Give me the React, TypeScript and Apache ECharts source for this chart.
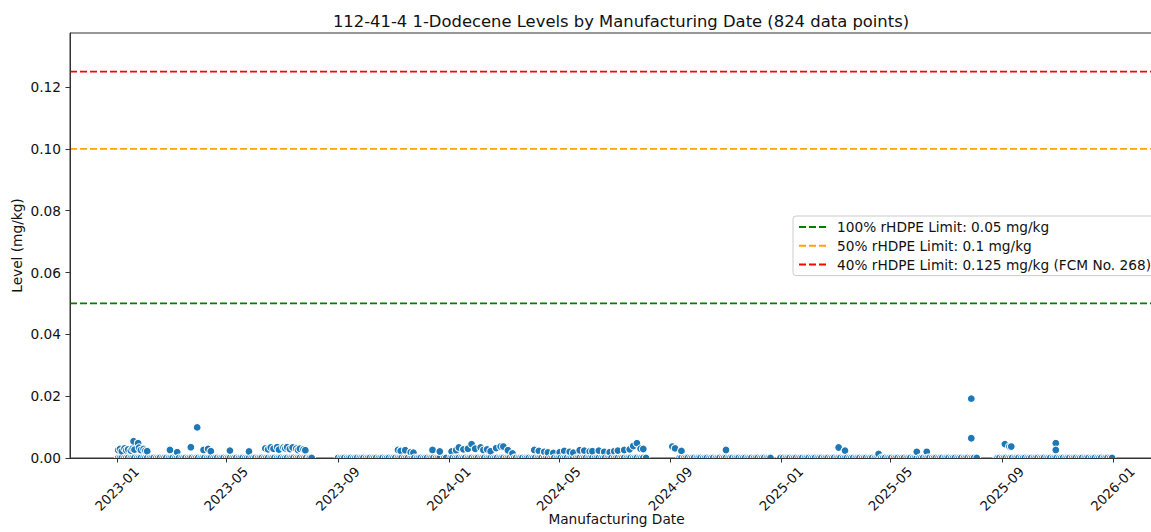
import { useEffect, useRef } from "react";
import * as echarts from "echarts";

const chartTitle = "112-41-4 1-Dodecene Levels by Manufacturing Date (824 data points)";
const xAxisTitle = "Manufacturing Date";
const yAxisTitle = "Level (mg/kg)";

const xTickDates = [
  "2023-01-01", "2023-05-01", "2023-09-01", "2024-01-01", "2024-05-01",
  "2024-09-01", "2025-01-01", "2025-05-01", "2025-09-01", "2026-01-01",
];
const yTicks = [0, 0.02, 0.04, 0.06, 0.08, 0.1, 0.12];
const xRange = ["2022-11-10", "2026-02-25"];
const yRange = [0, 0.1375];

const limitNames = [
  "100% rHDPE Limit: 0.05 mg/kg",
  "50% rHDPE Limit: 0.1 mg/kg",
  "40% rHDPE Limit: 0.125 mg/kg (FCM No. 268)",
];
const limitValues = [0.05, 0.1, 0.125];
const limitColors = ["#008000", "#ffa500", "#ff0000"];

// Samples with no detection (level 0), by month: days of month
const zeroDays: [string, string][] = [
  ["2023-01", "2 4 6 9 11 13 16 18 20 23 25 27 30"],
  ["2023-02", "1 3 6 8 10 13 15 17 20 22 24 27"],
  ["2023-03", "1 3 6 8 10 13 15 17 20 22 24 27 29 31"],
  ["2023-04", "3 5 7 10 12 14 17 19 21 24 26 28"],
  ["2023-05", "1 3 5 8 10 12 15 17 19 22 24 26 29 31"],
  ["2023-06", "2 5 7 9 12 14 16 19 21 23 26 28 30"],
  ["2023-07", "3 5 7 10 12 14 17 19 21 24 26 28 31"],
  ["2023-08", "1 3"],
  ["2023-09", "1 4 6 8 11 13 15 18 20 22 25 27 29"],
  ["2023-10", "2 4 6 9 11 13 16 18 20 23 25 27 30"],
  ["2023-11", "1 3 6 8 10 13 15 17 20 22 24 27 29"],
  ["2023-12", "1 4 6 8 11 13 15 18 20 22 27 29"],
  ["2024-01", "3 5 8 10 12 15 17 19 22 24 26 29 31"],
  ["2024-02", "2 5 7 9 12 14 16 19 21 23 26 28"],
  ["2024-03", "1 4 6 8 11 13 15 18 20 22 25 27 29"],
  ["2024-04", "1 3 5 8 10 12 15 17 19 22 24 26 29"],
  ["2024-05", "1 3 6 8 10 13 15 17 20 22 24 27 29 31"],
  ["2024-06", "3 5 7 10 12 14 17 19 21 24 26 28"],
  ["2024-07", "1 3 5 8 10 12 15 17 19 22 24 26 29 31"],
  ["2024-08", "2 5"],
  ["2024-09", "11 13 16 18 20 23 25 27 30"],
  ["2024-10", "2 4 7 9 11 14 16 18 21 23 25 28 30"],
  ["2024-11", "1 4 6 8 11 13 15 18 20 22 25 27 29"],
  ["2024-12", "2 4 6 9 11 13 16 18 20 31"],
  ["2025-01", "3 6 8 10 13 15 17 20 22 24 27 29 31"],
  ["2025-02", "3 5 7 10 12 14 17 19 21 24 26 28"],
  ["2025-03", "3 5 7 10 12 14 17 19 21 24 26 28 31"],
  ["2025-04", "2 4 7 9 11 14 16 18 21 23 25 28 30"],
  ["2025-05", "2 5 7 9 12 14 16 19 21 23 26 28 30"],
  ["2025-06", "2 4 6 9 11 13 16 18 20 23 25 27 30"],
  ["2025-07", "2 4 7 9 11 14 16 18 21 23 25 28 30"],
  ["2025-08", "1 4 26 27 29"],
  ["2025-09", "1 3 5 8 10 12 15 17 19 22 24 26 29"],
  ["2025-10", "1 3 6 8 10 13 15 17 20 22 24 27 29 31"],
  ["2025-11", "3 5 7 10 12 14 17 19 21 24 26 28"],
  ["2025-12", "1 3 5 8 10 12 15 17 19 22 24 26 29 31"],
];

// Samples with a detected level
const detectedDates = [
  "2023-01-02", "2023-01-04", "2023-01-06", "2023-01-09", "2023-01-11", "2023-01-13",
  "2023-01-16", "2023-01-18", "2023-01-19", "2023-01-20", "2023-01-24", "2023-01-25",
  "2023-01-27", "2023-01-30", "2023-02-01", "2023-02-03", "2023-02-28", "2023-03-08",
  "2023-03-23", "2023-03-30", "2023-04-06", "2023-04-11", "2023-04-14", "2023-05-05",
  "2023-05-26", "2023-06-13", "2023-06-16", "2023-06-19", "2023-06-22", "2023-06-26",
  "2023-06-28", "2023-07-03", "2023-07-05", "2023-07-07", "2023-07-10", "2023-07-13",
  "2023-07-17", "2023-07-19", "2023-07-21", "2023-07-25", "2023-07-27",
  "2023-11-06", "2023-11-09", "2023-11-14", "2023-11-20", "2023-11-23", "2023-12-14",
  "2023-12-22", "2024-01-04", "2024-01-09", "2024-01-12", "2024-01-17", "2024-01-22",
  "2024-01-26", "2024-01-30", "2024-02-05", "2024-02-08", "2024-02-12", "2024-02-16",
  "2024-02-22", "2024-02-27", "2024-03-01", "2024-03-06", "2024-03-11",
  "2024-04-04", "2024-04-09", "2024-04-15", "2024-04-19", "2024-04-25", "2024-05-02",
  "2024-05-07", "2024-05-13", "2024-05-17", "2024-05-24", "2024-05-29", "2024-06-04",
  "2024-06-07", "2024-06-14", "2024-06-20", "2024-06-26", "2024-07-01", "2024-07-05",
  "2024-07-12", "2024-07-18", "2024-07-22", "2024-07-26", "2024-07-30", "2024-08-02",
  "2024-09-03", "2024-09-06", "2024-09-13", "2024-11-01",
  "2025-03-05", "2025-03-12", "2025-04-18", "2025-05-30", "2025-06-10", "2025-07-29",
  "2025-07-29", "2025-09-04", "2025-09-09", "2025-09-11", "2025-10-30", "2025-10-30",
];
const detectedLevels = [
  0.0026, 0.0029, 0.0022, 0.0031, 0.0025, 0.0028,
  0.0024, 0.003, 0.0054, 0.0027, 0.0048, 0.0033,
  0.0026, 0.0029, 0.0024, 0.0022, 0.0026, 0.0019,
  0.0035, 0.0099, 0.0026, 0.0029, 0.0022, 0.0024,
  0.0021, 0.0031, 0.0028, 0.0034, 0.003, 0.0035,
  0.0027, 0.0034, 0.0031, 0.0035, 0.0029, 0.0034,
  0.003, 0.0026, 0.003, 0.0028, 0.0025,
  0.0026, 0.0023, 0.0025, 0.0019, 0.0017, 0.0026,
  0.0021, 0.0021, 0.0025, 0.0034, 0.0028, 0.003,
  0.0045, 0.003, 0.0034, 0.0026, 0.0028, 0.0022,
  0.0032, 0.0037, 0.0037, 0.0025, 0.0015,
  0.0026, 0.0023, 0.002, 0.0018, 0.0016, 0.0019,
  0.0023, 0.002, 0.0017, 0.0025, 0.0024, 0.0021,
  0.0022, 0.0024, 0.002, 0.0019, 0.0022, 0.0024,
  0.0026, 0.0028, 0.0039, 0.0048, 0.003, 0.0029,
  0.0037, 0.0031, 0.0023, 0.0026,
  0.0034, 0.0024, 0.0013, 0.002, 0.002, 0.0192,
  0.0064, 0.0045, 0.0037, 0.0037, 0.0048, 0.0026,
];

function ts(s: string): number {
  const [y, m, d] = s.split("-").map(Number);
  return Date.UTC(y, m - 1, d);
}

const FONT = "DejaVu Sans";
const TXT = "#111";
const FS = 13.7;

export default function App() {
  const ref = useRef<HTMLDivElement>(null);

  useEffect(() => {
    if (!ref.current) return;
    const chart = echarts.init(ref.current, undefined, { renderer: "svg" });

    const points: [number, number][] = [];
    zeroDays.forEach(([month, days]) => {
      days.split(" ").forEach((d) => {
        points.push([ts(`${month}-${d}`), 0]);
      });
    });
    detectedDates.forEach((d, i) => points.push([ts(d), detectedLevels[i]]));
    points.sort((a, b) => a[0] - b[0]);

    const xMin = ts(xRange[0]);
    const xMax = ts(xRange[1]);
    const xTicks = xTickDates.map(ts);

    const option: any = {
      animation: false,
      textStyle: { fontFamily: FONT },
      title: {
        text: chartTitle,
        left: 616,
        textAlign: "center",
        top: 8,
        textStyle: { fontFamily: FONT, fontSize: 16.4, fontWeight: "normal", color: TXT },
      },
      legend: {
        orient: "vertical",
        left: 793,
        top: 216,
        padding: [4, 8, 4, 5],
        itemWidth: 27,
        itemHeight: 14,
        itemGap: 4.8,
        borderColor: "#cccccc",
        borderWidth: 1,
        borderRadius: 3,
        backgroundColor: "rgba(255,255,255,0.8)",
        data: limitNames,
        itemStyle: { opacity: 0 },
        textStyle: { fontFamily: FONT, fontSize: FS, color: TXT, padding: [0, 0, 0, 6] },
      },
      grid: {
        left: 70,
        top: 33,
        width: 1093,
        height: 425,
        show: true,
        borderColor: "#333",
        borderWidth: 1,
        containLabel: false,
        outerBoundsMode: "none",
      },
      graphic: [
        {
          type: "rect",
          shape: { x: 0, y: 458, width: 1151, height: 8 },
          style: { fill: "#ffffff" },
          z: 5,
          silent: true,
        },
      ],
      xAxis: {
        type: "value",
        min: xMin,
        max: xMax,
        scale: true,
        z: 10,
        name: xAxisTitle,
        nameLocation: "middle",
        nameGap: 54,
        nameMoveOverlap: false,
        nameTextStyle: { fontFamily: FONT, fontSize: FS, color: TXT },
        axisLine: { show: true, onZero: false, lineStyle: { color: "#333", width: 1 } },
        axisTick: { show: true, length: 4.5, customValues: xTicks, lineStyle: { color: "#333" } },
        splitLine: { show: false },
        axisLabel: {
          customValues: xTicks,
          rotate: 45,
          align: "center",
          verticalAlign: "middle",
          margin: 31,
          fontFamily: FONT,
          fontSize: 13.3,
          color: TXT,
          formatter: (v: number) => {
            const d = new Date(v);
            const m = d.getUTCMonth() + 1;
            return `${d.getUTCFullYear()}-${m < 10 ? "0" + m : m}`;
          },
        },
      },
      yAxis: {
        type: "value",
        min: yRange[0],
        max: yRange[1],
        z: 10,
        name: yAxisTitle,
        nameLocation: "middle",
        nameGap: 46,
        nameMoveOverlap: false,
        nameTextStyle: { fontFamily: FONT, fontSize: FS, color: TXT },
        axisLine: { show: true, lineStyle: { color: "#333", width: 1 } },
        axisTick: { show: true, length: 4.5, customValues: yTicks, lineStyle: { color: "#333" } },
        splitLine: { show: false },
        axisLabel: {
          customValues: yTicks,
          margin: 9,
          fontFamily: FONT,
          fontSize: FS,
          color: TXT,
          formatter: (v: number) => v.toFixed(2),
        },
      },
      series: [
        {
          type: "scatter",
          name: "levels",
          data: points,
          symbol: "circle",
          symbolSize: 7.8,
          clip: true,
          itemStyle: { color: "#1f77b4", borderColor: "#ffffff", borderWidth: 1, opacity: 1 },
          emphasis: { disabled: true },
          z: 2,
        },
        ...limitNames.map((name, i) => ({
          type: "line",
          name,
          data: [
            [xMin, limitValues[i]],
            [xMax, limitValues[i]],
          ],
          symbol: "none",
          clip: true,
          lineStyle: { color: limitColors[i], width: 1.8, type: [7, 3] },
          itemStyle: { color: limitColors[i] },
          emphasis: { disabled: true },
          z: 3,
        })),
      ],
    };

    chart.setOption(option);
    return () => chart.dispose();
  }, []);

  return (
    <div
      ref={ref}
      style={{ position: "absolute", left: 0, top: 0, width: 1151, height: 532, background: "#fff" }}
    />
  );
}
